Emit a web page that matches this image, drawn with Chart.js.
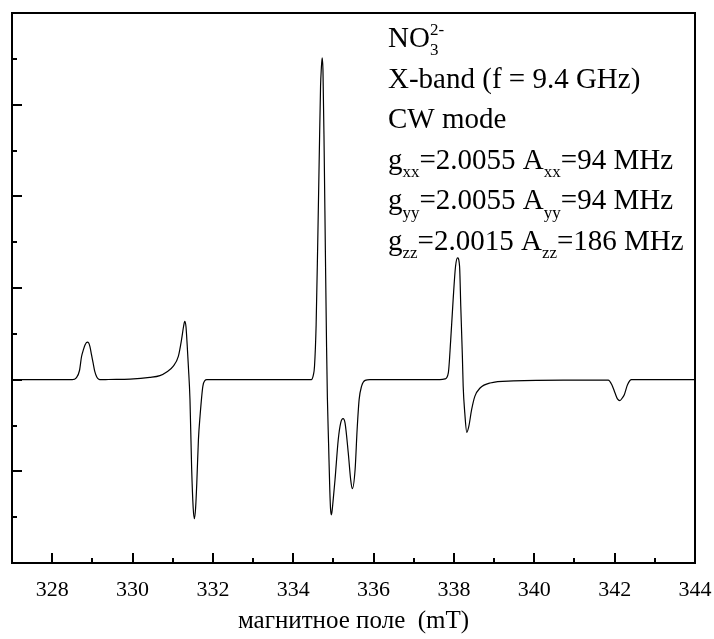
<!DOCTYPE html>
<html>
<head>
<meta charset="utf-8">
<script src="https://cdn.jsdelivr.net/npm/chart.js@4/dist/chart.umd.min.js"></script>
<style>
  html, body { margin: 0; padding: 0; background: #fff; }
  #wrap { width: 714px; height: 639px; }
</style>
</head>
<body>
<div id="wrap"><canvas id="epr"></canvas></div>
<script>
// Spectrum data ---------------------------------------------------

// magnetic field, mT
const fieldX = [
  327.00, 328.50, 328.60, 328.68, 328.73, 328.78, 328.82, 328.87, 328.91, 328.94,
  328.98, 329.02, 329.06, 329.11, 329.16, 329.22,
  329.40, 329.94, 330.43, 330.68, 330.86, 331.01, 331.14, 331.22, 331.27, 331.30,
  331.33, 331.36, 331.39, 331.43, 331.47, 331.51, 331.54, 331.57, 331.60, 331.64,
  331.68, 331.75, 331.80, 331.85,
  334.45, 334.50, 334.53, 334.57, 334.61, 334.65, 334.68, 334.70, 334.72, 334.74,
  334.77, 334.80, 334.83, 334.85, 334.88, 334.91, 334.93, 334.95, 334.97, 334.99,
  335.04, 335.12, 335.18, 335.24, 335.29, 335.37, 335.43, 335.47, 335.54, 335.59,
  335.64, 335.70, 335.79, 335.91,
  337.65, 337.78, 337.86, 337.92, 337.98, 338.04, 338.09, 338.14, 338.17, 338.21,
  338.23, 338.27, 338.32, 338.37, 338.44, 338.52, 338.65, 338.90, 339.48, 340.72,
  341.84, 341.93, 342.01, 342.07, 342.13, 342.19, 342.24, 342.32, 342.42, 344.00
];

// first-derivative EPR signal, arb. units
const signal = [
  0, 0, 0.02, 0.10, 0.25, 0.33, 0.38, 0.41, 0.40, 0.36,
  0.27, 0.18, 0.09, 0.03, 0.005, 0,
  0.002, 0.006, 0.024, 0.044, 0.087, 0.145, 0.254, 0.437, 0.58, 0.636,
  0.58, 0.38, 0.145, -0.218, -0.947, -1.40, -1.517, -1.40, -1.124, -0.655,
  -0.40, -0.073, -0.01, 0,
  0, 0.05, 0.15, 0.60, 1.50, 2.50, 3.20, 3.40, 3.51, 3.38,
  2.50, 1.40, 0.35, -0.20, -0.70, -1.20, -1.42, -1.474, -1.42, -1.33,
  -1.092, -0.655, -0.473, -0.426, -0.473, -0.80, -1.092, -1.19, -0.98, -0.546,
  -0.218, -0.073, -0.008, 0,
  0, 0.008, 0.073, 0.437, 0.873, 1.237, 1.329, 1.237, 0.80, 0.254,
  -0.073, -0.364, -0.575, -0.51, -0.328, -0.182, -0.091, -0.036, -0.014, -0.004,
  -0.005, -0.055, -0.146, -0.21, -0.229, -0.20, -0.164, -0.055, 0, 0
];

const xTickLabels = [328, 330, 332, 334, 336, 338, 340, 342, 344];

// text block in the upper right: [text, kind] runs per line
const noteLines = [
  [['NO', 'n'], ['3', 'sub'], ['2-', 'sup']],
  [['X-band (f = 9.4 GHz)', 'n']],
  [['CW mode', 'n']],
  [['g', 'n'], ['xx', 'sub'], ['=2.0055 A', 'n'], ['xx', 'sub'], ['=94 MHz', 'n']],
  [['g', 'n'], ['yy', 'sub'], ['=2.0055 A', 'n'], ['yy', 'sub'], ['=94 MHz', 'n']],
  [['g', 'n'], ['zz', 'sub'], ['=2.0015 A', 'n'], ['zz', 'sub'], ['=186 MHz', 'n']]
];

const points = fieldX.map((f, i) => ({ x: f, y: signal[i] }));

const serif = '"Liberation Serif", "Times New Roman", serif';
const noteSize = 29;

function drawRuns(ctx, runs, x0, base) {
  let xPos = x0, subStart = x0;
  const big = noteSize + 'px ' + serif;
  const small = Math.round(noteSize * 0.6) + 'px ' + serif;
  runs.forEach(([txt, kind]) => {
    if (kind === 'n') {
      ctx.font = big;
      ctx.fillText(txt, xPos, base);
      xPos += ctx.measureText(txt).width;
    } else if (kind === 'sub') {
      ctx.font = small;
      subStart = xPos;
      ctx.fillText(txt, xPos, base + noteSize * 0.28);
      xPos += ctx.measureText(txt).width;
    } else {
      // superscript stacked over the preceding subscript
      ctx.font = small;
      ctx.fillText(txt, subStart, base - noteSize * 0.42);
      xPos = Math.max(xPos, subStart + ctx.measureText(txt).width);
    }
  });
}

// frame, inward ticks and the parameter notes
const framePlugin = {
  id: 'framePlugin',
  afterDraw(chart) {
    const { ctx, chartArea: a, scales: { x, y } } = chart;
    ctx.save();
    ctx.strokeStyle = '#000';
    ctx.lineWidth = 2;
    ctx.beginPath();
    ctx.moveTo(a.left, a.top);
    ctx.lineTo(a.right, a.top);
    ctx.lineTo(a.right, a.bottom);
    ctx.stroke();

    x.ticks.forEach(t => {
      if (t.value <= x.min || t.value >= x.max) return;
      const px = Math.round(x.getPixelForValue(t.value));
      const len = t.value % 2 === 0 ? 10 : 5;
      ctx.beginPath();
      ctx.moveTo(px, a.bottom);
      ctx.lineTo(px, a.bottom - len);
      ctx.stroke();
    });
    y.ticks.forEach(t => {
      if (t.value <= y.min || t.value >= y.max) return;
      const py = Math.round(y.getPixelForValue(t.value));
      const len = Number.isInteger(t.value) ? 10 : 5;
      ctx.beginPath();
      ctx.moveTo(a.left, py);
      ctx.lineTo(a.left + len, py);
      ctx.stroke();
    });

    ctx.fillStyle = '#000';
    ctx.textBaseline = 'alphabetic';
    noteLines.forEach((runs, i) => drawRuns(ctx, runs, 388, 47 + i * 40.6));
    ctx.restore();
  }
};

const config = {
  type: 'line',
  data: {
    datasets: [{
      data: points,
      borderColor: '#000',
      borderWidth: 1.2,
      pointRadius: 0,
      cubicInterpolationMode: 'monotone',
      fill: false
    }]
  },
  options: {
    responsive: false,
    animation: false,
    layout: { padding: { left: 12, top: 13, right: 19, bottom: 0 } },
    plugins: { legend: { display: false }, tooltip: { enabled: false } },
    scales: {
      x: {
        type: 'linear',
        min: 327,
        max: 344,
        grid: { display: false, drawTicks: false },
        border: { display: true, color: '#000', width: 2 },
        // keep the end labels from pulling the plot area inwards
        afterFit: s => { s.paddingLeft = 0; s.paddingRight = 0; },
        ticks: {
          stepSize: 1,
          autoSkip: false,
          maxRotation: 0,
          padding: 16,
          color: '#000',
          font: { family: serif, size: 22, lineHeight: 1 },
          callback: v => (xTickLabels.includes(v) ? String(v) : '')
        },
        title: {
          display: true,
          text: 'магнитное поле  (mT)',
          color: '#000',
          font: { family: serif, size: 25, lineHeight: 1 },
          padding: { top: -8, bottom: 5 }
        }
      },
      y: {
        min: -2,
        max: 4,
        grid: { display: false, drawTicks: false },
        border: { display: true, color: '#000', width: 2 },
        ticks: { display: false, stepSize: 0.5 }
      }
    }
  },
  plugins: [framePlugin]
};

const canvas = document.getElementById('epr');
canvas.width = 714;
canvas.height = 639;
new Chart(canvas, config);
</script>
</body>
</html>
